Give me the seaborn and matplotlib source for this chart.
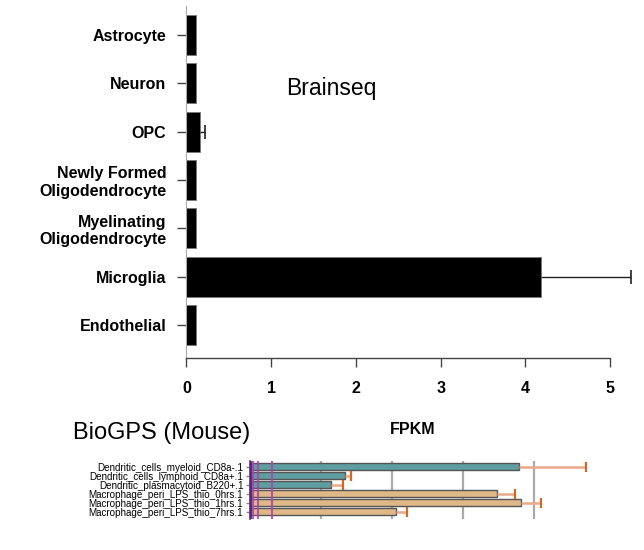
import matplotlib
matplotlib.use("Agg")
import matplotlib.pyplot as plt
import seaborn as sns
import pandas as pd

# ---- Data: Brainseq (top) ----
brain_cells = ["Astrocyte", "Neuron", "OPC", "Newly Formed\nOligodendrocyte",
               "Myelinating\nOligodendrocyte", "Microglia", "Endothelial"]
brain_fpkm = [0.11, 0.11, 0.16, 0.11, 0.11, 4.18, 0.11]
brain_err = [0.0, 0.0, 0.06, 0.0, 0.0, 1.07, 0.0]
brain_ticks = [0, 1, 2, 3, 4, 5]

# ---- Data: BioGPS (bottom) ----
gps_samples = ["Dendritic_cells_myeloid_CD8a-.1", "Dendritic_cells_lymphoid_CD8a+.1",
               "Dendritic_plasmacytoid_B220+.1", "Macrophage_peri_LPS_thio_0hrs.1",
               "Macrophage_peri_LPS_thio_1hrs.1", "Macrophage_peri_LPS_thio_7hrs.1"]
gps_values = [3.80, 1.35, 1.15, 3.48, 3.83, 2.07]
gps_err = [0.935, 0.08, 0.17, 0.26, 0.28, 0.15]
gps_group = ["Dendritic", "Dendritic", "Dendritic", "Macrophage", "Macrophage", "Macrophage"]
gps_ref_lines = [0.02, 0.045, 0.115, 0.317]
gps_grid = [1, 2, 3, 4]

sns.set_style("white")
plt.rcParams["font.family"] = ["Liberation Sans", "DejaVu Sans"]
plt.rcParams["text.color"] = "black"
plt.rcParams["xtick.labelcolor"] = "black"
plt.rcParams["ytick.labelcolor"] = "black"

W, H = 644, 550
fig = plt.figure(figsize=(W / 100, H / 100), dpi=100)

# ---------------- Top chart ----------------
ax1 = fig.add_axes([186.5 / W, 1 - 357.8 / H, (635.4 - 186.5) / W, (357.8 - 6) / H])
df1 = pd.DataFrame({"cell": brain_cells, "fpkm": brain_fpkm})
sns.barplot(data=df1, x="fpkm", y="cell", orient="h", color="black",
            edgecolor="#777777", linewidth=0.6, width=0.83, errorbar=None,
            saturation=1, ax=ax1)
ypos = list(range(len(brain_cells)))
err_idx = [i for i, e in enumerate(brain_err) if e > 0]
ax1.errorbar([brain_fpkm[i] for i in err_idx], [ypos[i] for i in err_idx],
             xerr=[[0] * len(err_idx), [brain_err[i] for i in err_idx]],
             fmt="none", ecolor="#222222", elinewidth=1.0, capsize=0, zorder=3)
ax1.plot([brain_fpkm[i] + brain_err[i] for i in err_idx], [ypos[i] for i in err_idx],
         ls="none", marker="|", ms=10, mew=1.2, color="#222222", zorder=4)
ax1.set_xlim(0, 5.3)
ax1.set_ylim(6.68, -0.6)
ax1.set_xticks(brain_ticks)
ax1.set_xticklabels([str(t) for t in brain_ticks])
ax1.set_xlabel("")
ax1.set_ylabel("")
for s in ["top", "right"]:
    ax1.spines[s].set_visible(False)
ax1.spines["bottom"].set_bounds(0, 5)
ax1.spines["bottom"].set_color("#444444")
ax1.spines["bottom"].set_linewidth(1.0)
ax1.spines["left"].set_color("#aaaaaa")
ax1.spines["left"].set_linewidth(0.8)
ax1.tick_params(axis="x", direction="out", length=6.5, width=1.0, color="#444444",
                pad=10, labelsize=11.5, bottom=True)
ax1.tick_params(axis="y", direction="out", length=6.5, width=1.0, color="#444444",
                pad=8, labelsize=11.5, left=True)
for lbl in ax1.get_xticklabels() + ax1.get_yticklabels():
    lbl.set_fontweight("bold")
fig.text(331 / W, 1 - 88 / H, "Brainseq", ha="center", va="center", fontsize=16.5)

fig.text(413 / W, 1 - 430 / H, "FPKM", ha="center", va="center",
         fontsize=11.5, fontweight="bold")
fig.text(73 / W, 1 - 433 / H, "BioGPS (Mouse)", ha="left", va="center", fontsize=17)

# ---------------- Bottom chart ----------------
x0, unit = 249.5, 71.0
xmax = 4.9
ax2 = fig.add_axes([x0 / W, 1 - 519 / H, xmax * unit / W, (519 - 461) / H])
for g in gps_grid:
    ax2.axvline(g, color="#aaaaaa", lw=1.6, zorder=0)
df2 = pd.DataFrame({"sample": gps_samples, "value": gps_values, "group": gps_group})
sns.barplot(data=df2, x="value", y="sample", hue="group", orient="h",
            palette={"Dendritic": "#5F9EA0", "Macrophage": "#DEB887"},
            dodge=False, legend=False, edgecolor="#555555", linewidth=1.0,
            width=0.8, errorbar=None, saturation=1, ax=ax2, zorder=2)
ypos2 = list(range(len(gps_samples)))
ax2.errorbar(gps_values, ypos2, xerr=[[0] * len(gps_err), gps_err], fmt="none",
             ecolor="#E8A988", elinewidth=1.8, capsize=0, zorder=3)
ax2.plot([v + e for v, e in zip(gps_values, gps_err)], ypos2, ls="none",
         marker="|", ms=7, mew=1.6, color="#D2691E", zorder=4)
ref_colors = ["#5A1A8A", "#B040B0", "#B040B0", "#B040B0"]
for v, c in zip(gps_ref_lines, ref_colors):
    ax2.axvline(v, color=c, lw=1.5, alpha=0.85, zorder=5)
ax2.set_xlim(0, xmax)
ax2.set_ylim(5.8, -0.63)
ax2.set_xlabel("")
ax2.set_ylabel("")
ax2.set_xticks([])
for s in ["top", "right", "bottom"]:
    ax2.spines[s].set_visible(False)
ax2.spines["left"].set_color("#444444")
ax2.spines["left"].set_linewidth(1.2)
ax2.tick_params(axis="y", direction="out", length=3, width=1, color="#888888",
                pad=1.5, labelsize=7.1, left=True)

fig.savefig("out.png", dpi=100)
